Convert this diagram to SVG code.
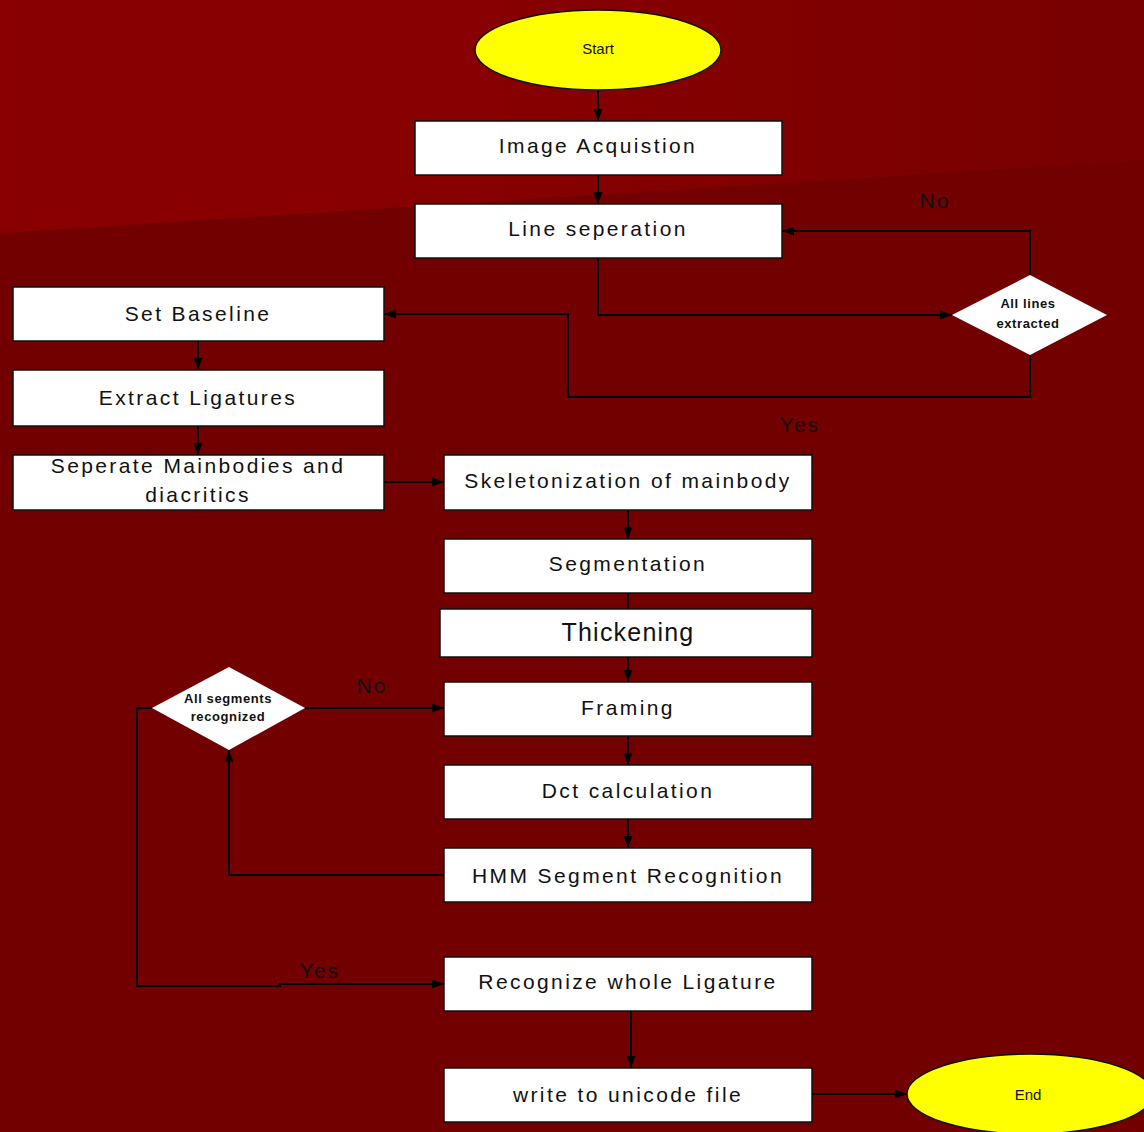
<svg xmlns="http://www.w3.org/2000/svg" width="1144" height="1132" viewBox="0 0 1144 1132">
<defs>
<linearGradient id="bgTop" x1="0" y1="0" x2="1" y2="0">
<stop offset="0" stop-color="#8a0000"/>
<stop offset="0.45" stop-color="#870000"/>
<stop offset="1" stop-color="#780000"/>
</linearGradient>
<marker id="arr" viewBox="0 0 12 10" refX="12" refY="5" markerWidth="12" markerHeight="10" markerUnits="userSpaceOnUse" orient="auto">
<path d="M0,0.5 L12,5 L0,9.5 Z" fill="#000"/>
</marker>
<style>
.box{fill:#fff;stroke:#111;stroke-width:1.5}
.term{fill:#ffff00;stroke:#111;stroke-width:1.5}
.dia{fill:#fff;stroke:none}
.t{font-family:"Liberation Sans",Arial,sans-serif;font-size:21px;letter-spacing:2.4px;fill:#111;text-anchor:middle;dominant-baseline:central}
.ts{font-family:"Liberation Sans",Arial,sans-serif;font-size:15px;fill:#111;text-anchor:middle;dominant-baseline:central}
.td{font-family:"Liberation Sans",Arial,sans-serif;font-size:13px;font-weight:bold;letter-spacing:0.6px;fill:#111;text-anchor:middle;dominant-baseline:central}
.lbl{font-family:"Liberation Sans",Arial,sans-serif;font-size:21px;letter-spacing:2px;fill:#111;text-anchor:middle;dominant-baseline:central}
.c{fill:none;stroke:#000;stroke-width:2}
</style>
</defs>
<rect width="1144" height="1132" fill="#730000"/>
<polygon points="0,0 1144,0 1144,160 0,233" fill="url(#bgTop)"/>

<g id="connectors">
<line class="c" x1="598" y1="90" x2="598" y2="121" marker-end="url(#arr)"/>
<line class="c" x1="598" y1="175" x2="598" y2="204" marker-end="url(#arr)"/>
<polyline class="c" points="598,258 598,315 952,315" marker-end="url(#arr)"/>
<polyline class="c" points="1030,275 1030,231 782,231" marker-end="url(#arr)"/>
<polyline class="c" points="1030,355 1030,397 568,397 568,314 384,314" marker-end="url(#arr)"/>
<line class="c" x1="198" y1="341" x2="198" y2="370" marker-end="url(#arr)"/>
<line class="c" x1="198" y1="425" x2="198" y2="455" marker-end="url(#arr)"/>
<line class="c" x1="384" y1="482" x2="444" y2="482" marker-end="url(#arr)"/>
<line class="c" x1="628" y1="510" x2="628" y2="539" marker-end="url(#arr)"/>
<line class="c" x1="628" y1="593" x2="628" y2="609"/>
<line class="c" x1="628" y1="657" x2="628" y2="682" marker-end="url(#arr)"/>
<line class="c" x1="628" y1="736" x2="628" y2="765" marker-end="url(#arr)"/>
<line class="c" x1="628" y1="819" x2="628" y2="848" marker-end="url(#arr)"/>
<line class="c" x1="305" y1="708" x2="444" y2="708" marker-end="url(#arr)"/>
<polyline class="c" points="444,875 229,875 229,750" marker-end="url(#arr)"/>
<polyline class="c" points="152,708 137,708 137,986 280,986 280,984 444,984" marker-end="url(#arr)"/>
<line class="c" x1="631" y1="1011" x2="631" y2="1068" marker-end="url(#arr)"/>
<line class="c" x1="812" y1="1094" x2="907" y2="1094" marker-end="url(#arr)"/>
<text class="lbl" x="935" y="200">No</text>
<text class="lbl" x="800" y="424">Yes</text>
<text class="lbl" x="372" y="685">No</text>
<text class="lbl" x="320" y="970">Yes</text>
</g>

<g id="start"><ellipse class="term" cx="598" cy="50" rx="123" ry="40"/><text class="ts" x="598" y="48">Start</text></g>
<g id="image-acquisition"><rect class="box" x="415" y="121" width="367" height="54"/><text class="t" x="598" y="145">Image Acquistion</text></g>
<g id="line-separation"><rect class="box" x="415" y="204" width="367" height="54"/><text class="t" x="598" y="228">Line seperation</text></g>
<g id="all-lines-extracted"><polygon class="dia" points="1030,275 1107,315 1030,355 952,315"/><text class="td" x="1028" y="303">All lines</text><text class="td" x="1028" y="323">extracted</text></g>
<g id="set-baseline"><rect class="box" x="13" y="287" width="371" height="54"/><text class="t" x="198" y="313">Set Baseline</text></g>
<g id="extract-ligatures"><rect class="box" x="13" y="370" width="371" height="56"/><text class="t" x="198" y="397">Extract Ligatures</text></g>
<g id="separate-mainbodies"><rect class="box" x="13" y="455" width="371" height="55"/><text class="t" x="198" y="465">Seperate Mainbodies and</text><text class="t" x="198" y="494">diacritics</text></g>
<g id="skeletonization"><rect class="box" x="444" y="455" width="368" height="55"/><text class="t" x="628" y="480">Skeletonization of mainbody</text></g>
<g id="segmentation"><rect class="box" x="444" y="539" width="368" height="54"/><text class="t" x="628" y="563">Segmentation</text></g>
<g id="thickening"><rect class="box" x="440" y="609" width="372" height="48"/><text class="t" x="628" y="632" style="font-size:25px;letter-spacing:1.2px">Thickening</text></g>
<g id="framing"><rect class="box" x="444" y="682" width="368" height="54"/><text class="t" x="628" y="707">Framing</text></g>
<g id="dct"><rect class="box" x="444" y="765" width="368" height="54"/><text class="t" x="628" y="790">Dct calculation</text></g>
<g id="hmm"><rect class="box" x="444" y="848" width="368" height="54"/><text class="t" x="628" y="875">HMM Segment Recognition</text></g>
<g id="all-segments-recognized"><polygon class="dia" points="229,667 305,708 229,750 152,708"/><text class="td" x="228" y="698">All segments</text><text class="td" x="228" y="716">recognized</text></g>
<g id="recognize-whole"><rect class="box" x="444" y="957" width="368" height="54"/><text class="t" x="628" y="981">Recognize whole Ligature</text></g>
<g id="write-unicode"><rect class="box" x="444" y="1068" width="368" height="54"/><text class="t" x="628" y="1094">write to unicode file</text></g>
<g id="end"><ellipse class="term" cx="1030" cy="1094" rx="123" ry="40"/><text class="ts" x="1028" y="1094">End</text></g>
</svg>
